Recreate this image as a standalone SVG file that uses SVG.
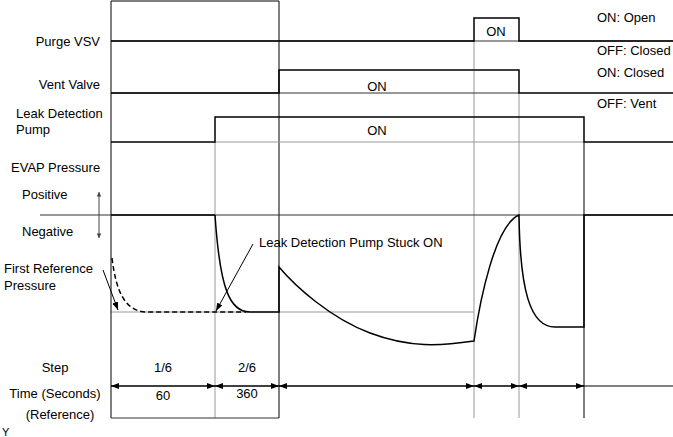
<svg xmlns="http://www.w3.org/2000/svg" width="673" height="437" viewBox="0 0 673 437">
<style>
text{font-family:"Liberation Sans",Arial,sans-serif;font-size:13px;fill:#000}
.m{text-anchor:middle}
.e{text-anchor:end}
.grid{stroke:#999;stroke-width:1;fill:none}
.frame{stroke:#000;stroke-width:1;fill:none}
.base{stroke:#333;stroke-width:1;fill:none}
.sig{stroke:#000;stroke-width:1.5;fill:none}
.dash{stroke:#000;stroke-width:1.5;fill:none;stroke-dasharray:5 3}
.ptr{stroke:#000;stroke-width:1;fill:none}
</style>
<defs>
<marker id="ah" viewBox="0 0 8 6" refX="8" refY="3" markerWidth="8" markerHeight="6" markerUnits="userSpaceOnUse" orient="auto-start-reverse">
<path d="M0,0 L8,3 L0,6 Z" fill="#000"/>
</marker>
<marker id="ahg" viewBox="0 0 6 8" refX="6" refY="4" markerWidth="6" markerHeight="6" markerUnits="userSpaceOnUse" orient="auto-start-reverse">
<path d="M0,1 L6,4 L0,7 Z" fill="#444"/>
</marker>
</defs>

<g id="grid">
<line class="grid" x1="215" y1="142" x2="215" y2="418"/>
<line class="grid" x1="474" y1="41" x2="474" y2="418"/>
<line class="grid" x1="519" y1="93" x2="519" y2="418"/>
<line class="grid" x1="111" y1="312" x2="474" y2="312"/>
<line class="frame" x1="584" y1="142" x2="584" y2="418"/>
<path class="frame" d="M111,418 V1 H279 V418"/>
<line class="base" x1="111" y1="418" x2="279" y2="418"/>
</g>

<g id="labels-left">
<text class="e" x="100" y="46">Purge VSV</text>
<text class="e" x="100" y="89">Vent Valve</text>
<text x="16" y="118">Leak Detection</text>
<text x="16" y="134">Pump</text>
<text x="11" y="172">EVAP Pressure</text>
<text x="22" y="199">Positive</text>
<text x="22" y="236">Negative</text>
<text x="4" y="273">First Reference</text>
<text x="4" y="290">Pressure</text>
<text class="m" x="55" y="372">Step</text>
<text class="m" x="55" y="398">Time (Seconds)</text>
<text class="m" x="60" y="419">(Reference)</text>
<text x="2" y="436" style="font-size:11px">Y</text>
</g>

<g id="labels-right">
<text x="597" y="22">ON: Open</text>
<text x="597" y="55">OFF: Closed</text>
<text x="597" y="77">ON: Closed</text>
<text x="597" y="108">OFF: Vent</text>
</g>

<g id="purge-vsv">
<line class="base" x1="111" y1="41" x2="673" y2="41"/>
<path class="sig" d="M111,41 H474 V18 H519 V41 H673"/>
<text class="m" x="496" y="36">ON</text>
</g>

<g id="vent-valve">
<line class="base" x1="111" y1="93" x2="519" y2="93"/>
<path class="sig" d="M111,93 H279 V70 H519 V93 H673"/>
<text class="m" x="377" y="91">ON</text>
</g>

<g id="leak-pump">
<line class="grid" x1="215" y1="142" x2="584" y2="142"/>
<path class="sig" d="M111,142 H215 V117 H584 V142 H673"/>
<text class="m" x="377" y="135">ON</text>
</g>

<g id="evap-pressure">
<line class="base" x1="40" y1="215" x2="673" y2="215"/>
<line class="sig" x1="111" y1="215" x2="215" y2="215"/>
<path class="dash" d="M112,258 C116,290 124,311 146,312 L246,312"/>
<path class="sig" d="M215,215 C220,290 230,312 250,312 L279,312 V267 C295,286 330,318 370,333 S440,346 474,341 C480,300 495,225 519,215 C520,290 530,327 555,327 H584 V215 H673"/>
<text x="259" y="247">Leak Detection Pump Stuck ON</text>
</g>

<g id="connectors">
<line x1="99" y1="192" x2="99" y2="238" stroke="#444" stroke-width="1" marker-start="url(#ahg)" marker-end="url(#ahg)"/>
<line class="ptr" x1="103" y1="270" x2="118" y2="310" marker-end="url(#ah)"/>
<line class="ptr" x1="253" y1="244" x2="216" y2="311" marker-end="url(#ah)"/>
<line class="ptr" x1="111" y1="386" x2="673" y2="386"/>
<line class="ptr" x1="111" y1="386" x2="215" y2="386" marker-start="url(#ah)" marker-end="url(#ah)"/>
<line class="ptr" x1="215" y1="386" x2="279" y2="386" marker-start="url(#ah)" marker-end="url(#ah)"/>
<line class="ptr" x1="279" y1="386" x2="474" y2="386" marker-start="url(#ah)" marker-end="url(#ah)"/>
<line class="ptr" x1="474" y1="386" x2="519" y2="386" marker-start="url(#ah)" marker-end="url(#ah)"/>
<line class="ptr" x1="519" y1="386" x2="584" y2="386" marker-start="url(#ah)" marker-end="url(#ah)"/>
</g>

<g id="step-row">
<text class="m" x="163" y="372">1/6</text>
<text class="m" x="247" y="372">2/6</text>
<text class="m" x="163" y="400">60</text>
<text class="m" x="247" y="398">360</text>
</g>
</svg>
